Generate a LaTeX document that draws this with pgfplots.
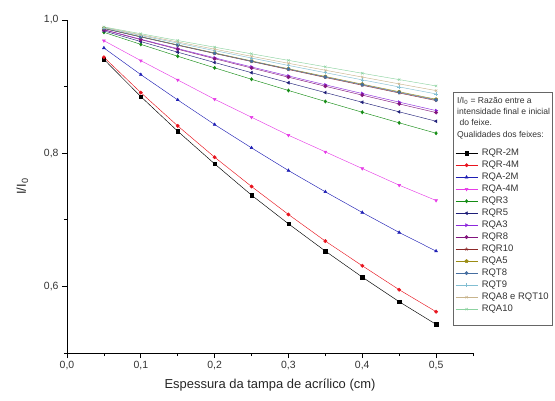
\documentclass[border=0pt]{standalone}
\usepackage{pgfplots}
\pgfplotsset{compat=1.18}
\usepackage{pgfplotstable}
\usepackage{fontspec}
\setmainfont{Liberation Sans}

\definecolor{cRQR2M}{HTML}{000000}
\definecolor{cRQR4M}{HTML}{E8141E}
\definecolor{cRQA2M}{HTML}{1E1EB4}
\definecolor{cRQA4M}{HTML}{E63CE6}
\definecolor{cRQR3}{HTML}{148C14}
\definecolor{cRQR5}{HTML}{1E1E78}
\definecolor{cRQA3}{HTML}{8C28DC}
\definecolor{cRQR8}{HTML}{82147D}
\definecolor{cRQR10}{HTML}{8C2828}
\definecolor{cRQA5}{HTML}{9B8C14}
\definecolor{cRQT8}{HTML}{466EA0}
\definecolor{cRQT9}{HTML}{82BED2}
\definecolor{cRQA8}{HTML}{C8B48C}
\definecolor{cRQA10}{HTML}{8CD2A0}

% I/I0 versus espessura (cm)
\pgfplotstableread{
x    rqr2m rqr4m rqa2m rqa4m rqr3   rqr5   rqa3   rqr8   rqr10  rqa5   rqt8   rqt9   rqa8   rqa10
0.05 0.941 0.944 0.958 0.969 0.9815 0.9836 0.9855 0.9851 0.9872 0.9874 0.9873 0.9883 0.9889 0.9896
0.10 0.885 0.891 0.918 0.939 0.9634 0.9676 0.9712 0.9705 0.9745 0.9750 0.9747 0.9767 0.9778 0.9794
0.15 0.833 0.841 0.880 0.910 0.9456 0.9517 0.9571 0.9561 0.9620 0.9627 0.9624 0.9653 0.9670 0.9692
0.20 0.784 0.794 0.843 0.881 0.9282 0.9362 0.9432 0.9419 0.9497 0.9506 0.9501 0.9540 0.9562 0.9592
0.25 0.737 0.750 0.808 0.854 0.9110 0.9209 0.9295 0.9279 0.9376 0.9386 0.9381 0.9429 0.9455 0.9492
0.30 0.694 0.708 0.774 0.827 0.8942 0.9058 0.9160 0.9141 0.9256 0.9268 0.9262 0.9318 0.9350 0.9394
0.35 0.653 0.668 0.742 0.802 0.8777 0.8910 0.9027 0.9005 0.9137 0.9152 0.9144 0.9209 0.9246 0.9297
0.40 0.614 0.631 0.711 0.777 0.8615 0.8765 0.8896 0.8872 0.9020 0.9037 0.9028 0.9101 0.9143 0.9200
0.45 0.577 0.595 0.681 0.752 0.8456 0.8621 0.8767 0.8740 0.8904 0.8923 0.8913 0.8995 0.9041 0.9105
0.50 0.543 0.562 0.653 0.729 0.8300 0.8480 0.8640 0.8610 0.8790 0.8810 0.8800 0.8890 0.8940 0.9010
}\data

\begin{document}
\begin{tikzpicture}
\begin{axis}[
    scale only axis,
    width=406bp, height=333bp,
    xmin=0, xmax=0.55, ymin=0.5, ymax=1.0,
    axis lines=left,
    axis line style={-, line width=0.7pt},
    tick align=outside,
    major tick length=5bp, minor tick length=3bp,
    tick style={black, line width=0.7pt},
    xtick={0,0.1,0.2,0.3,0.4,0.5},
    minor xtick={0.05,0.15,0.25,0.35,0.45,0.55},
    ytick={0.6,0.8,1.0},
    minor ytick={0.5,0.7,0.9},
    /pgf/number format/assume math mode=true,
    /pgf/number format/.cd, use comma, fixed, fixed zerofill, precision=1,
    /pgfplots/.cd,
    ticklabel style={font=\fontsize{10.5}{12}\selectfont, text=black!80},
    xlabel={Espessura da tampa de acrílico (cm)},
    ylabel={I/I\textsubscript{0}},
    label style={font=\fontsize{13}{15}\selectfont, text=black!85},
    xlabel style={yshift=-2bp},
    ylabel style={yshift=9bp},
    every axis plot/.append style={line width=0.45pt, mark size=1.7pt},
    legend cell align=left,
    legend style={draw=none, fill=none, at={(0.956,0.617)}, anchor=north west,
        inner sep=0pt, row sep=1bp,
        nodes={inner sep=1pt, font=\fontsize{9.5}{10}\selectfont, text=black!80,
               text height=7bp, text depth=2bp},
        /tikz/every odd column/.append style={column sep=3bp}},
    legend image code/.code={
        \draw[mark repeat=2,mark phase=2] plot coordinates {(0bp,0bp)(11bp,0bp)(22bp,0bp)};},
]
\addplot[cRQR2M, mark=square*] table[x=x, y=rqr2m] {\data};
\addlegendentry{RQR-2M}
\addplot[cRQR4M, mark=*] table[x=x, y=rqr4m] {\data};
\addlegendentry{RQR-4M}
\addplot[cRQA2M, mark=triangle*] table[x=x, y=rqa2m] {\data};
\addlegendentry{RQA-2M}
\addplot[cRQA4M, mark=triangle*, mark options={rotate=180}] table[x=x, y=rqa4m] {\data};
\addlegendentry{RQA-4M}
\addplot[cRQR3, mark=diamond*] table[x=x, y=rqr3] {\data};
\addlegendentry{RQR3}
\addplot[cRQR5, mark=triangle*, mark options={rotate=90}] table[x=x, y=rqr5] {\data};
\addlegendentry{RQR5}
\addplot[cRQA3, mark=triangle*, mark options={rotate=-90}] table[x=x, y=rqa3] {\data};
\addlegendentry{RQA3}
\addplot[cRQR8, mark=*] table[x=x, y=rqr8] {\data};
\addlegendentry{RQR8}
\addplot[cRQR10, mark=star] table[x=x, y=rqr10] {\data};
\addlegendentry{RQR10}
\addplot[cRQA5, mark=pentagon*] table[x=x, y=rqa5] {\data};
\addlegendentry{RQA5}
\addplot[cRQT8, mark=*] table[x=x, y=rqt8] {\data};
\addlegendentry{RQT8}
\addplot[cRQT9, mark=+] table[x=x, y=rqt9] {\data};
\addlegendentry{RQT9}
\addplot[cRQA8, mark=x] table[x=x, y=rqa8] {\data};
\addlegendentry{RQA8 e RQT10}
\addplot[cRQA10, mark=x] table[x=x, y=rqa10] {\data};
\addlegendentry{RQA10}
\end{axis}

% caixa da legenda e texto explicativo
\draw[black!60, line width=0.5pt] ([shift={(386bp,28bp)}]current axis.south west) rectangle ++(99bp,233bp);
\node[anchor=north west, align=left, inner sep=0pt, text=black!80,
      font=\fontsize{8.6}{11}\selectfont]
  at ([shift={(390bp,256bp)}]current axis.south west)
  {I/I\textsubscript{0} = Razão entre a\\intensidade final e inicial\\\ do feixe.\\[1bp]Qualidades dos feixes:};

\pgfresetboundingbox
\useasboundingbox ([shift={(-67bp,-48bp)}]current axis.south west) rectangle ++(555bp,401bp);
\end{tikzpicture}
\end{document}
